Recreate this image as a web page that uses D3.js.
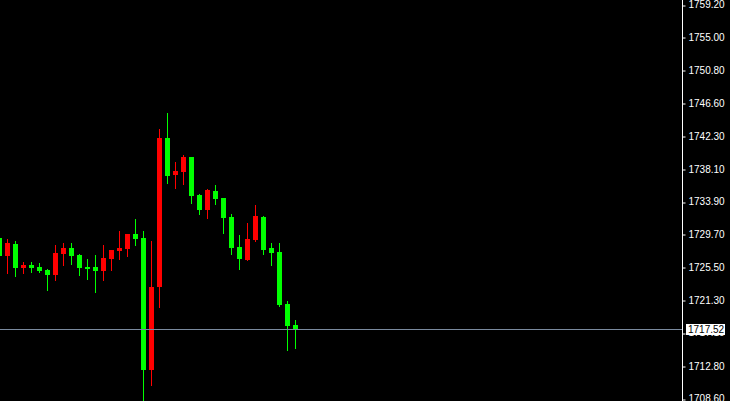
<!DOCTYPE html>
<html>
<head>
<meta charset="utf-8">
<script src="https://cdn.jsdelivr.net/npm/d3@7/dist/d3.min.js"></script>
<style>
html,body{margin:0;padding:0;background:#000;overflow:hidden;}
svg{display:block;}
</style>
</head>
<body>
<svg id="chart" width="730" height="401"></svg>
<script>
// Candle data (index order, left to right)
const opens  = [1729.24,1726.97,1728.51,1725.43,1725.77,1725.52,1725.17,1724.49,1727.22,1727.99,1727.06,1725.52,1725.52,1725.04,1726.58,1727.61,1727.83,1729.79,1729.24,1712.29,1722.95,1742.08,1737.33,1737.72,1739.64,1734.76,1732.84,1735.28,1734.38,1731.94,1728.08,1726.41,1728.98,1731.94,1727.96,1727.44,1720.76,1718.07];
const highs  = [1729.24,1729.11,1728.86,1726.16,1726.16,1726.03,1725.26,1728.34,1728.60,1728.60,1727.22,1726.54,1727.06,1728.34,1727.70,1730.14,1729.79,1731.68,1730.14,1728.86,1743.24,1745.29,1739.00,1739.90,1739.64,1734.89,1735.53,1736.05,1734.38,1732.32,1729.63,1731.17,1733.48,1732.07,1728.60,1728.60,1721.15,1718.71];
const lows   = [1726.93,1724.66,1724.27,1724.66,1724.78,1724.78,1722.47,1723.76,1725.68,1725.77,1724.40,1723.89,1722.22,1723.76,1725.04,1726.45,1726.84,1728.25,1708.00,1710.27,1720.29,1736.17,1735.53,1736.05,1733.64,1732.19,1731.68,1733.48,1729.75,1727.06,1725.13,1726.29,1728.73,1727.06,1725.68,1720.38,1714.73,1714.99];
const closes = [1726.93,1728.64,1725.43,1725.77,1725.43,1725.04,1724.53,1727.31,1727.99,1726.97,1725.43,1725.26,1725.04,1726.67,1727.70,1727.99,1729.79,1729.15,1712.29,1722.95,1742.12,1737.20,1737.84,1739.64,1734.67,1732.84,1735.40,1734.25,1731.81,1727.96,1726.54,1729.11,1732.07,1727.70,1727.31,1720.64,1717.94,1717.52];
const tickLabels = ["1759.20","1755.00","1750.80","1746.60","1742.30","1738.10","1733.90","1729.70","1725.50","1721.30","1717.10","1712.80","1708.60"];
const currentPrice = 1717.52;

const W = 730, H = 401, axisX = 682;
const svg = d3.select("#chart");
svg.append("rect").attr("width", W).attr("height", H).attr("fill", "#000");

const x = d3.scaleLinear().domain([0, 85]).range([-0.5, 679.5]);
const y = d3.scaleLinear().domain([1708.6, 1759.2]).range([398.7, 4.7]);

const data = opens.map((o, i) => ({i, o, h: highs[i], l: lows[i], c: closes[i]}));

const g = svg.append("g");
const candles = g.selectAll("g.c").data(data).join("g").attr("class", "c");
candles.append("line")
  .attr("x1", d => x(d.i)).attr("x2", d => x(d.i))
  .attr("y1", d => Math.round(y(d.h))).attr("y2", d => Math.round(y(d.l)))
  .attr("stroke", d => d.c > d.o ? "#ff0000" : "#00ff00")
  .attr("stroke-width", 1);
candles.append("rect")
  .attr("x", d => x(d.i) - 2.5)
  .attr("width", 5)
  .attr("y", d => Math.round(y(Math.max(d.o, d.c))))
  .attr("height", d => Math.max(1, Math.round(y(Math.min(d.o, d.c))) - Math.round(y(Math.max(d.o, d.c)))))
  .attr("fill", d => d.c > d.o ? "#ff0000" : "#00ff00")
  .attr("shape-rendering", "crispEdges");

// current price line
const py = Math.round(y(currentPrice)) + 0.5;
svg.append("line").attr("x1", 0).attr("x2", axisX).attr("y1", py).attr("y2", py)
  .attr("stroke", "#7a8a9e").attr("stroke-width", 1);

// right axis
const axis = d3.axisRight(y)
  .tickValues(tickLabels.map(Number))
  .tickFormat((d, i) => tickLabels[i])
  .tickSize(3).tickPadding(3);
const ag = svg.append("g").attr("transform", `translate(${axisX + 0.5},0)`).call(axis);
ag.select(".domain").remove();
ag.selectAll(".tick line").attr("stroke", "#fff").attr("transform", d => `translate(0,${Math.round(y(d)) + 0.5 - y(d)})`);
ag.selectAll(".tick text").attr("fill", "#fff")
  .style("font-family", "'Liberation Sans', Arial, sans-serif").style("font-size", "10px");
svg.append("line").attr("x1", axisX + 0.5).attr("x2", axisX + 0.5).attr("y1", 0).attr("y2", H)
  .attr("stroke", "#fff").attr("stroke-width", 1);

// current price label
svg.append("rect").attr("x", 686).attr("y", py - 5.5).attr("width", 39).attr("height", 11)
  .attr("fill", "#fff").attr("shape-rendering", "crispEdges");
svg.append("text").attr("x", 688).attr("y", py).attr("dy", "0.35em")
  .attr("fill", "#000").style("font-family", "'Liberation Sans', Arial, sans-serif").style("font-size", "10px")
  .text(currentPrice.toFixed(2));
</script>
</body>
</html>
